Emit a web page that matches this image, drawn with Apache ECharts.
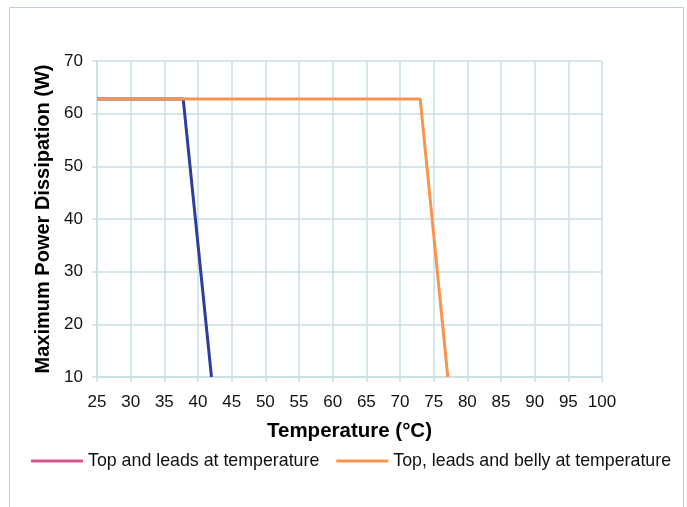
<!DOCTYPE html>
<html><head><meta charset="utf-8">
<script src="https://cdn.jsdelivr.net/npm/echarts@6/dist/echarts.min.js"></script>
<style>html,body{margin:0;padding:0;background:#fff}#c{width:687px;height:507px}</style>
</head><body><div id="c"></div>
<script>
const seriesNames = ['Top and leads at temperature', 'Top, leads and belly at temperature'];
const topLeads = [[25, 62.8], [37.8, 62.8], [42.0, 10]];
const topLeadsBelly = [[25, 62.8], [73.0, 62.8], [77.1, 10]];
const xTicks = [25,30,35,40,45,50,55,60,65,70,75,80,85,90,95,100];
const yTicks = [10,20,30,40,50,60,70];

const chart = echarts.init(document.getElementById('c'));
const gridColor = '#c9dfe5';
chart.setOption({
  animation: false,
  graphic: [{type:'rect', shape:{x:9.5,y:7.5,width:674,height:520}, style:{fill:'none', stroke:'#b8d0d8', lineWidth:1}}],
  grid: {left: 97, right: 85, top: 61, bottom: 130},
  legend: {
    top: 447, left: 26, itemWidth: 52, itemHeight: 3, itemGap: 17,
    icon: 'rect',
    textStyle: {fontFamily: 'Liberation Sans', fontSize: 17.8, color: '#111'},
    data: [
      {name: seriesNames[0], itemStyle: {color: '#d6578d'}},
      {name: seriesNames[1], itemStyle: {color: '#f9944f'}}
    ]
  },
  xAxis: {
    type: 'value', min: xTicks[0], max: xTicks[xTicks.length-1], interval: 5,
    name: 'Temperature (°C)', nameLocation: 'middle', nameGap: 44,
    nameTextStyle: {fontFamily: 'Liberation Sans', fontSize: 20.5, fontWeight: 'bold', color: '#000'},
    axisLine: {show: true, lineStyle: {color: gridColor, width: 1.5}},
    axisTick: {show: true, length: 5, lineStyle: {color: gridColor, width: 1.5}},
    axisLabel: {fontFamily: 'Liberation Sans', fontSize: 17, color: '#111', margin: 17},
    splitLine: {show: true, lineStyle: {color: gridColor, width: 1.5}}
  },
  yAxis: {
    type: 'value', min: yTicks[0], max: yTicks[yTicks.length-1], interval: 10,
    name: 'Maximum Power Dissipation (W)', nameLocation: 'middle', nameGap: 44,
    nameTextStyle: {fontFamily: 'Liberation Sans', fontSize: 20, fontWeight: 'bold', color: '#000'},
    axisLine: {show: true, lineStyle: {color: gridColor, width: 1.5}},
    axisTick: {show: true, length: 5, lineStyle: {color: gridColor, width: 1.5}},
    axisLabel: {fontFamily: 'Liberation Sans', fontSize: 17, color: '#111', margin: 14},
    splitLine: {show: true, lineStyle: {color: gridColor, width: 1.5}}
  },
  series: [
    {name: seriesNames[0], type: 'line', data: topLeads, showSymbol: false, symbol: 'none',
     lineStyle: {color: '#2c3f9c', width: 3}, itemStyle: {color: '#d6578d'}, z: 2},
    {name: seriesNames[1], type: 'line', data: topLeadsBelly, showSymbol: false, symbol: 'none',
     lineStyle: {color: '#f9944f', width: 3}, itemStyle: {color: '#f9944f'}, z: 3}
  ]
});
</script></body></html>
